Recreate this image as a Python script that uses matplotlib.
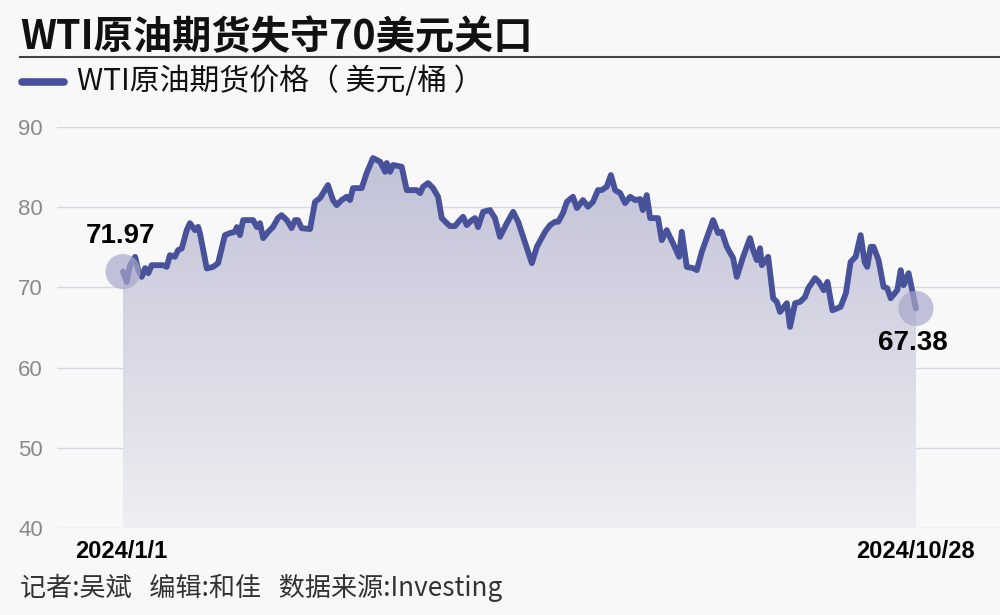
import numpy as np
import matplotlib
matplotlib.use("Agg")
from matplotlib import pyplot as plt
from matplotlib.patches import Polygon

plt.rcParams['font.family'] = ['Noto Sans CJK SC', 'DejaVu Sans']
NUM_FONT = ['Liberation Sans', 'DejaVu Sans']

# 数据: 2024/1/1 起的天数, WTI原油期货价格(美元/桶)
days = [0, 1.4, 2.7, 4.6, 5.8, 7.1, 8.4, 9.6, 10.9, 15.2, 16.6, 17.8, 19.7, 20.9,
        22.3, 24.2, 25.4, 27.3, 28.5, 29.2, 31.8, 34.2, 36.1, 38.7, 40.6, 42.5,
        43.2, 44.4, 45.6, 49.4, 50.8, 52.0, 53.2, 55.1, 56.9, 58.8, 60.2, 62.2,
        64.0, 65.3, 66.4, 67.8, 71.0, 72.9, 74.8, 77.8, 79.7, 81.1, 83.0, 84.9,
        86.2, 87.3, 90.6, 92.5, 94.9, 97.6, 99.5, 100.1, 101.4, 102.5, 105.8,
        107.7, 111.5, 112.8, 113.9, 115.8, 117.7, 119.6, 121.0, 122.9, 124.1,
        126.0, 127.9, 129.1, 130.5, 132.4, 133.6, 134.8, 136.7, 139.3, 141.2,
        143.1, 145.7, 148.1, 150.0, 155.2, 157.1, 160.2, 162.1, 164.0, 165.2,
        167.0, 168.5, 170.8, 172.3, 174.6, 176.5, 178.4, 180.3, 181.7, 183.6,
        185.2, 186.8, 188.7, 190.6, 192.5, 194.4, 196.3, 197.3, 198.8, 200.1,
        203.1, 204.5, 206.4, 208.8, 211.1, 212.1, 214.0, 216.4, 217.8, 219.7,
        224.0, 225.9, 227.3, 229.2, 231.6, 233.0, 235.4, 238.0, 239.2, 240.6,
        241.8, 242.5, 244.9, 246.8, 248.2, 249.4, 252.0, 253.2, 255.1, 257.0,
        258.9, 260.1, 262.7, 264.1, 266.0, 267.4, 269.3, 272.4, 274.4, 276.2,
        278.1, 280.0, 281.5, 282.5, 283.8, 284.9, 286.8, 288.7, 290.1, 291.4,
        293.9, 295.2, 296.3, 298.2, 301]
prices = [71.97, 70.69, 72.77, 73.81, 72.15, 71.31, 72.40, 71.77, 72.77, 72.77,
          72.56, 74.02, 73.81, 74.64, 74.86, 77.14, 78.01, 77.14, 77.55, 76.77,
          72.36, 72.56, 73.02, 76.52, 76.77, 76.93, 77.52, 76.52, 78.39, 78.39,
          77.52, 78.01, 76.14, 76.93, 77.52, 78.64, 79.01, 78.39, 77.39, 78.39,
          78.39, 77.39, 77.27, 80.67, 81.14, 82.76, 80.89, 80.26, 80.89, 81.30,
          80.89, 82.38, 82.38, 84.26, 86.13, 85.67, 84.42, 85.51, 84.42, 85.26,
          85.04, 82.13, 82.13, 81.76, 82.55, 83.01, 82.38, 81.30, 78.64, 78.01,
          77.64, 77.64, 78.39, 78.80, 77.77, 78.39, 78.64, 77.52, 79.43, 79.64,
          78.64, 76.30, 78.01, 79.43, 78.18, 73.02, 75.06, 76.93, 77.77, 78.18,
          78.18, 79.26, 80.67, 81.30, 79.89, 80.89, 80.05, 80.67, 82.13, 82.13,
          82.55, 84.01, 82.13, 81.76, 80.51, 81.30, 80.89, 81.01, 79.64, 81.51,
          78.64, 78.64, 75.89, 77.14, 75.48, 73.81, 76.93, 72.56, 72.40, 72.15,
          74.43, 78.39, 76.77, 76.93, 75.06, 73.65, 71.31, 73.81, 76.14, 74.64,
          73.40, 74.89, 72.77, 73.81, 68.65, 68.19, 66.94, 68.03, 65.07, 68.03,
          68.19, 68.81, 69.90, 71.15, 70.69, 69.65, 70.69, 67.15, 67.57, 69.28,
          73.18, 73.81, 76.52, 73.18, 72.56, 75.06, 75.06, 73.40, 70.06, 69.90,
          68.65, 69.65, 72.15, 70.27, 71.77, 67.38]
y_ticks = [40, 50, 60, 70, 80, 90]
x_labels = ['2024/1/1', '2024/10/28']

bg = '#f8f8f9'
line_color = '#47529a'

fig = plt.figure(figsize=(10, 6.15), dpi=100, facecolor=bg)
ax = fig.add_axes([0.057, 1 - 528 / 615, 0.943, (528 - 127) / 615])
ax.set_facecolor(bg)

x = np.array(days)
y = np.array(prices)
ax.set_xlim(-25.05, 332.9)
ax.set_ylim(40, 90)

# 网格线
for t in y_ticks:
    ax.axhline(t, color='#d8d8dc', lw=1, zorder=0)

# 渐变填充
grad = np.linspace(0, 1, 256).reshape(-1, 1)
top = np.array([194, 194, 216]) / 255
bottom = np.array([238, 238, 242]) / 255
img = top + (bottom - top) * grad
img = img.reshape(256, 1, 3)
im = ax.imshow(img, extent=[x[0], x[-1], 40, y.max()], aspect='auto',
               origin='upper', zorder=1)
poly = Polygon(np.column_stack([np.r_[x[0], x, x[-1]], np.r_[40, y, 40]]),
               closed=True, facecolor='none', edgecolor='none')
ax.add_patch(poly)
im.set_clip_path(poly)

ax.plot(x, y, color=line_color, lw=4.2, solid_joinstyle='round',
        solid_capstyle='round', zorder=3)

# 起止点
ax.scatter([x[0], x[-1]], [y[0], y[-1]], s=640, color='#a9a9cc', alpha=0.7,
           zorder=4, clip_on=False, edgecolors='none')
ax.text(x[0] - 1, y[0] + 4.4, f'{y[0]:.2f}', ha='center', va='center',
        fontsize=20, fontweight='bold', family=NUM_FONT)
ax.text(x[-1] - 1, y[-1] - 4.3, f'{y[-1]:.2f}', ha='center', va='center',
        fontsize=20, fontweight='bold', family=NUM_FONT)

ax.set_yticks(y_ticks)
ax.set_yticklabels([str(t) for t in y_ticks], color='#8a8a8a', fontsize=16,
                   family=NUM_FONT)
ax.tick_params(axis='y', length=0, pad=10)
ax.set_xticks([])
for s in ax.spines.values():
    s.set_visible(False)

# x轴标签
fig.text(121 / 1000, 1 - 552 / 615, x_labels[0], ha='center', va='center',
         fontsize=17, fontweight='bold', family=NUM_FONT)
fig.text(915 / 1000, 1 - 552 / 615, x_labels[1], ha='center', va='center',
         fontsize=17, fontweight='bold', family=NUM_FONT)

# 标题
fig.text(0.02, 1 - 38 / 615, 'WTI原油期货失守70美元关口', ha='left', va='center',
         fontsize=28.3, fontweight='bold', color='#111111')
fig.add_artist(plt.Line2D([0.02, 1.0], [1 - 57 / 615, 1 - 57 / 615],
                          color='#444444', lw=1.5))

# 图例
fig.add_artist(plt.Line2D([0.022, 0.064], [1 - 82 / 615, 1 - 82 / 615],
                          color=line_color, lw=5.5, solid_capstyle='round'))
fig.text(0.077, 1 - 82 / 615, 'WTI原油期货价格（ 美元/桶 ）', ha='left', va='center',
         fontsize=21.5, color='#111111')

# 脚注
fig.text(0.02, 1 - 588 / 615, '记者:吴斌   编辑:和佳   数据来源:Investing', ha='left',
         va='center', fontsize=18.8, color='#333333')

plt.savefig('out.png', dpi=100, facecolor=bg)
